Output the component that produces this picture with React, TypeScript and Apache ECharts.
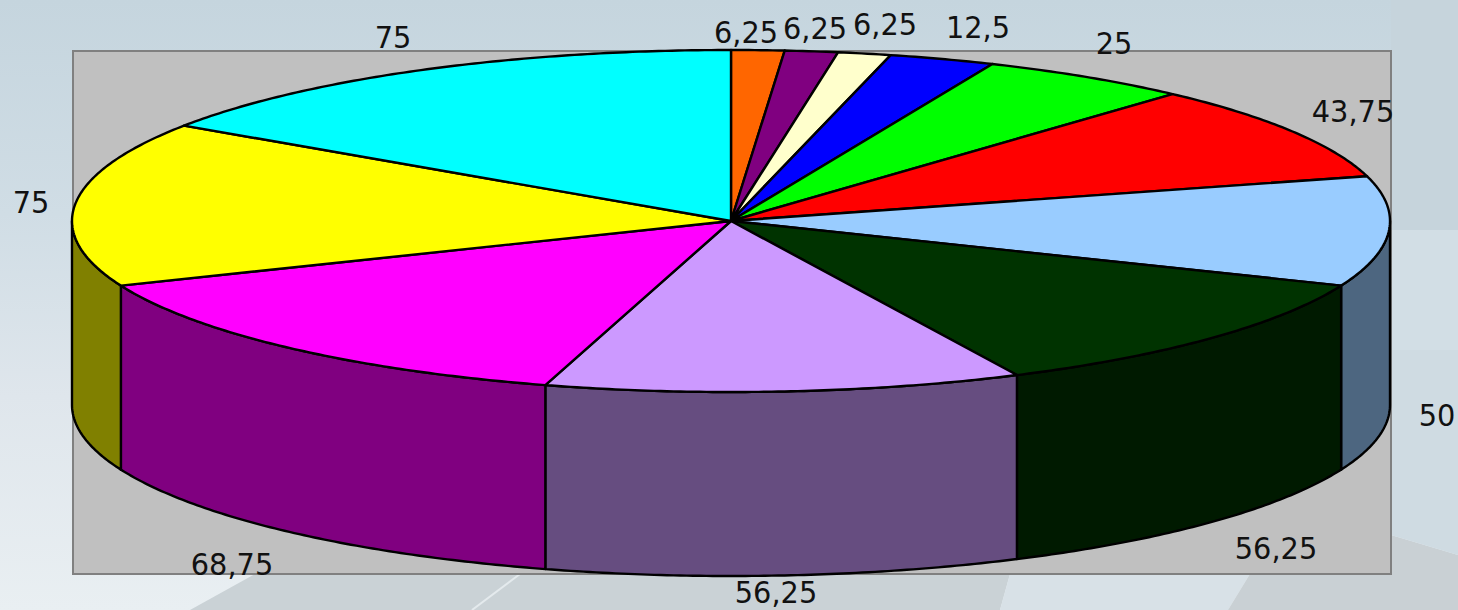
import React, { useEffect, useRef } from "react";
import * as echarts from "echarts";

const values = [6.25, 6.25, 6.25, 12.5, 25, 43.75, 50, 56.25, 56.25, 68.75, 75, 75];
const labels = ["6,25", "6,25", "6,25", "12,5", "25", "43,75", "50", "56,25", "56,25", "68,75", "75", "75"];
const topColors = ["#FF6600", "#800080", "#FFFFCC", "#0000FF", "#00FF00", "#FF0000", "#99CCFF", "#003300", "#CC99FF", "#FF00FF", "#FFFF00", "#00FFFF"];
const sideColors = ["#803300", "#400040", "#808066", "#000080", "#008000", "#800000", "#4D6680", "#001A00", "#664D80", "#800080", "#808000", "#008080"];
const labelCenters = [[746, 33], [815, 29], [885, 25], [978, 28], [1114, 44], [1353, 112], [1437, 416], [1276, 549], [776, 593], [232, 565], [31, 203], [393, 38]];

const PIE = { cx: 731, cy: 221, rx: 659, ry: 171, depth: 184 };
const total = values.reduce((a, b) => a + b, 0);
const startFractions = values.map((_, i) => values.slice(0, i).reduce((a, b) => a + b, 0) / total);

const pt = (t: number, dy = 0) => [PIE.cx + PIE.rx * Math.sin(t), PIE.cy - PIE.ry * Math.cos(t) + dy];
const arc = (a: number, b: number, dy = 0) => {
  const n = Math.max(2, Math.ceil(Math.abs(b - a) / 0.01));
  const out: number[][] = [];
  for (let i = 0; i <= n; i++) out.push(pt(a + ((b - a) * i) / n, dy));
  return out;
};

export default function App() {
  const ref = useRef<HTMLDivElement>(null);
  useEffect(() => {
    document.body.style.margin = "0";
    const chart = echarts.init(ref.current!, null, { renderer: "svg" });
    const facet = (points: number[][], fill: string) => ({ type: "polygon", z: 0, silent: true, shape: { points }, style: { fill } });
    chart.setOption({
      animation: false,
      graphic: [
        facet([[190, 610], [255, 574], [1010, 574], [1000, 610]], "#cad2d6"),
        facet([[1000, 610], [1010, 574], [1250, 574], [1228, 610]], "#d8e1e7"),
        facet([[1228, 610], [1250, 574], [1391, 574], [1391, 535], [1458, 555], [1458, 610]], "#c9d0d4"),
        facet([[1391, 0], [1458, 0], [1458, 230], [1391, 230]], "#c6d4dc"),
        facet([[1391, 230], [1458, 230], [1458, 350], [1391, 350]], "#d2dee5"),
        facet([[1391, 350], [1458, 350], [1458, 555], [1391, 535]], "#cfdbe2"),
        { type: "line", z: 0, silent: true, shape: { x1: 472, y1: 610, x2: 520, y2: 574 }, style: { stroke: "#e4eaed", lineWidth: 2 } },
        {
          type: "rect", z: 1, silent: true,
          shape: { x: 73, y: 51, width: 1318, height: 523 },
          style: { fill: "#C0C0C0", stroke: "#808080", lineWidth: 2 },
        },
        ...labels.map((text, i) => ({
          type: "text", z: 100, silent: true,
          x: labelCenters[i][0], y: labelCenters[i][1], scaleX: 0.96,
          style: { text, fill: "#111", font: "30px 'DejaVu Sans'", align: "center", verticalAlign: "middle" },
        })),
      ],
      series: [
        {
          type: "custom",
          coordinateSystem: "none",
          silent: true,
          data: values.map((v, i) => [v, i]),
          renderItem: (_p: any, api: any) => {
            const i = api.value(1);
            const a = startFractions[i] * 2 * Math.PI;
            const b = a + (api.value(0) / total) * 2 * Math.PI;
            const children: any[] = [];
            const lo = Math.max(a, Math.PI / 2);
            const hi = Math.min(b, (3 * Math.PI) / 2);
            if (hi > lo) {
              children.push({
                type: "polygon",
                shape: { points: [...arc(lo, hi), ...arc(hi, lo, PIE.depth)] },
                style: { fill: sideColors[i], stroke: "#000", lineWidth: 2.4, lineJoin: "round" },
              });
            }
            children.push({
              type: "polygon",
              shape: { points: [[PIE.cx, PIE.cy], ...arc(a, b)] },
              style: { fill: topColors[i], stroke: "#000", lineWidth: 2.4, lineJoin: "round" },
            });
            return { type: "group", children };
          },
        },
      ],
    });
    return () => chart.dispose();
  }, []);
  return (
    <div
      ref={ref}
      style={{
        width: 1458,
        height: 610,
        background: "linear-gradient(180deg,#c5d5de 0%,#d0dde5 35%,#dfe6ec 65%,#e9eff2 100%)",
      }}
    />
  );
}
